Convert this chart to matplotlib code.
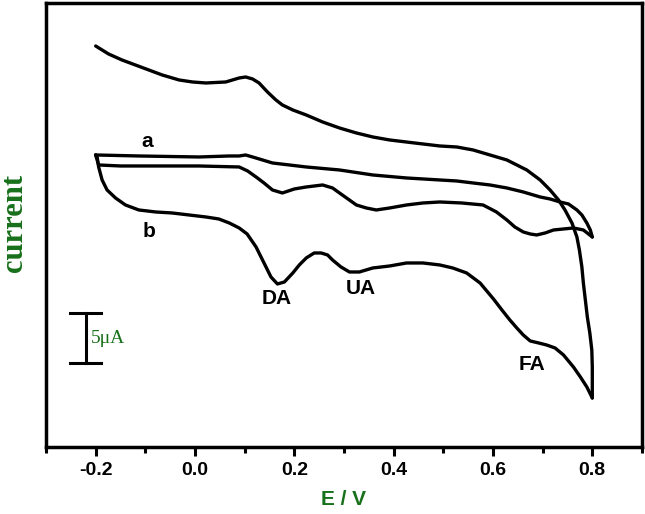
import matplotlib
matplotlib.use('Agg')
import matplotlib.pyplot as plt
from matplotlib.ticker import MultipleLocator

plt.rcParams['axes.unicode_minus'] = False

GREEN = '#17701a'

# curve a, forward scan (lower branch of the thin loop)
a_fwd_E = [-0.200, -0.194, -0.150, -0.113, 0.008, 0.089, 0.106, 0.123, 0.139, 0.156,
           0.176, 0.200, 0.224, 0.257, 0.277, 0.291, 0.308, 0.325, 0.345, 0.365,
           0.392, 0.426, 0.459, 0.493, 0.537, 0.580, 0.607, 0.628, 0.644, 0.661,
           0.675, 0.688, 0.705, 0.722, 0.742, 0.762, 0.782, 0.800]
a_fwd_I = [29.2, 28.2, 28.1, 28.1, 28.1, 28.0, 27.6, 27.0, 26.4, 25.7,
           25.4, 25.8, 26.0, 26.2, 25.9, 25.4, 24.8, 24.2, 23.9, 23.7,
           23.9, 24.2, 24.4, 24.5, 24.4, 24.2, 23.5, 22.7, 22.0, 21.5,
           21.3, 21.2, 21.4, 21.7, 21.8, 21.9, 21.7, 21.0]

# curve a, reverse scan (upper branch), from 0.8 V back to -0.2 V
a_rev_E = [0.800, 0.796, 0.789, 0.779, 0.769, 0.752, 0.735, 0.715, 0.695, 0.661,
           0.628, 0.594, 0.560, 0.527, 0.493, 0.426, 0.358, 0.291, 0.224, 0.190,
           0.156, 0.136, 0.116, 0.102, 0.089, 0.069, 0.008, -0.113, -0.200]
a_rev_I = [21.0, 21.7, 22.4, 23.2, 23.7, 24.3, 24.5, 24.8, 25.0, 25.5,
           25.9, 26.2, 26.4, 26.6, 26.7, 26.9, 27.2, 27.7, 28.0, 28.2,
           28.4, 28.7, 29.0, 29.2, 29.1, 29.1, 29.0, 29.1, 29.2]

# curve b, forward scan (DA, UA, FA oxidation peaks)
b_fwd_E = [-0.200, -0.197, -0.194, -0.187, -0.177, -0.160, -0.140, -0.113, -0.079, -0.046,
           -0.012, 0.022, 0.048, 0.069, 0.089, 0.105, 0.123, 0.133, 0.143, 0.153,
           0.166, 0.180, 0.197, 0.210, 0.224, 0.240, 0.254, 0.267, 0.277, 0.294,
           0.311, 0.331, 0.358, 0.392, 0.426, 0.459, 0.493, 0.519, 0.547, 0.574,
           0.601, 0.618, 0.634, 0.648, 0.661, 0.675, 0.692, 0.708, 0.725, 0.742,
           0.762, 0.776, 0.789, 0.800]
b_fwd_I = [29.2, 29.0, 28.0, 26.7, 25.7, 24.9, 24.2, 23.7, 23.5, 23.4,
           23.2, 23.0, 22.8, 22.4, 21.9, 21.3, 20.0, 19.0, 18.0, 17.0,
           16.3, 16.5, 17.4, 18.2, 18.9, 19.4, 19.4, 19.2, 18.7, 18.0,
           17.5, 17.5, 17.9, 18.1, 18.4, 18.4, 18.2, 17.9, 17.4, 16.4,
           14.8, 13.7, 12.7, 11.9, 11.2, 10.6, 10.4, 10.2, 9.9, 9.2,
           8.0, 7.0, 6.0, 4.9]

# curve b, reverse scan, from 0.8 V back to -0.2 V
b_rev_E = [0.800, 0.800, 0.799, 0.795, 0.790, 0.786, 0.782, 0.779, 0.774, 0.769,
           0.759, 0.745, 0.732, 0.715, 0.695, 0.668, 0.628, 0.594, 0.560, 0.527,
           0.493, 0.442, 0.392, 0.358, 0.325, 0.291, 0.257, 0.224, 0.197, 0.176,
           0.163, 0.146, 0.129, 0.116, 0.102, 0.089, 0.062, 0.022, -0.005, -0.032,
           -0.066, -0.093, -0.120, -0.147, -0.174, -0.200]
b_rev_I = [4.9, 8.0, 9.7, 11.4, 13.0, 14.7, 16.4, 18.0, 19.7, 21.0,
           22.4, 23.7, 24.7, 25.7, 26.7, 27.7, 28.7, 29.2, 29.7, 30.0,
           30.1, 30.4, 30.7, 31.0, 31.4, 31.9, 32.5, 33.2, 33.7, 34.2,
           34.7, 35.5, 36.4, 36.8, 37.0, 36.9, 36.5, 36.4, 36.5, 36.7,
           37.2, 37.7, 38.2, 38.7, 39.3, 40.1]

xticks = [-0.2, 0.0, 0.2, 0.4, 0.6, 0.8]
xticklabels = ['-0.2', '0.0', '0.2', '0.4', '0.6', '0.8']

fig = plt.figure(figsize=(6.45, 5.14), dpi=100)
ax = fig.add_axes([0.0713, 0.1304, 0.924, 0.8638])

line_kw = dict(color='black', lw=2.4, solid_joinstyle='round', solid_capstyle='round')
ax.plot(a_fwd_E, a_fwd_I, **line_kw)
ax.plot(a_rev_E, a_rev_I, **line_kw)
ax.plot(b_fwd_E, b_fwd_I, **line_kw)
ax.plot(b_rev_E, b_rev_I, **line_kw)

ax.set_xlim(-0.3, 0.9)
ax.set_ylim(0, 44.4)

for s in ax.spines.values():
    s.set_linewidth(2.5)

ax.set_xticks(xticks)
ax.set_xticklabels(xticklabels, fontsize=14, fontweight='bold', family='Liberation Sans')
ax.xaxis.set_minor_locator(MultipleLocator(0.1))
ax.tick_params(axis='x', which='major', direction='out', length=6.5, width=2.2, pad=4)
ax.tick_params(axis='x', which='minor', direction='out', length=4, width=2.2)
ax.set_yticks([])

ax.set_xlabel('E / V', fontsize=15, fontweight='bold', color=GREEN,
              family='Liberation Sans', labelpad=8)
fig.text(0.022, 1 - 223 / 514, 'current', rotation=90, ha='center', va='center',
         fontsize=22, fontweight='bold', color=GREEN, family='Liberation Serif')

# curve / peak labels
lab_kw = dict(fontsize=15, fontweight='bold', family='Liberation Sans', ha='center', va='center')
ax.text(-0.097, 30.5, 'a', **lab_kw)
ax.text(-0.093, 21.5, 'b', **lab_kw)
ax.text(0.165, 14.8, 'DA', **lab_kw)
ax.text(0.334, 15.8, 'UA', **lab_kw)
ax.text(0.679, 8.2, 'FA', **lab_kw)

# 5 uA scale bar
ax.plot([-0.220, -0.220], [8.4, 13.4], color='black', lw=2.2)
ax.plot([-0.251, -0.190], [13.4, 13.4], color='black', lw=2.2)
ax.plot([-0.251, -0.190], [8.4, 8.4], color='black', lw=2.2)
ax.text(-0.210, 10.8, '5\u03bcA', fontsize=14, color=GREEN, family='Liberation Serif',
        ha='left', va='center')

fig.savefig('out.png', dpi=100, facecolor='white')
